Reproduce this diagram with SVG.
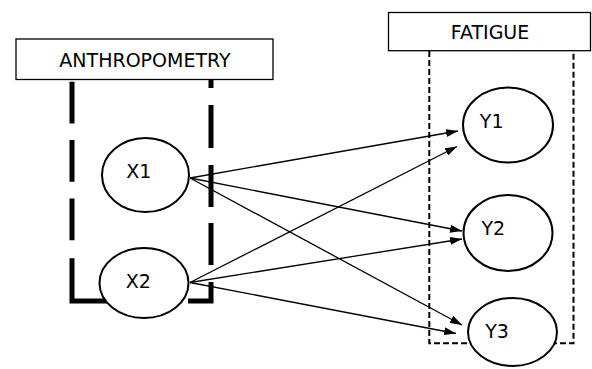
<svg xmlns="http://www.w3.org/2000/svg" width="592" height="369" viewBox="0 0 592 369">
<style>
.lbl{font-family:"DejaVu Sans","Liberation Sans",sans-serif;font-size:19px;fill:#000;text-anchor:middle}
.box{fill:#fff;stroke:#000;stroke-width:1.3}
.node{fill:#fff;stroke:#000;stroke-width:2}
.thick{fill:none;stroke:#000;stroke-width:5;stroke-linecap:butt;stroke-linejoin:miter}
.thin{fill:none;stroke:#000;stroke-width:2;stroke-dasharray:6 3}
.conn line{stroke:#000;stroke-width:1.3;marker-end:url(#ah)}
</style>
<defs>
<marker id="ah" markerUnits="userSpaceOnUse" markerWidth="12" markerHeight="8" refX="12" refY="4" orient="auto">
<path d="M0,0 L12,4 L0,8 z" fill="#000"/>
</marker>
</defs>
<g id="anthropometry">
<rect class="box" x="16" y="39" width="257" height="40.5"/>
<text class="lbl" x="145" y="66.5">ANTHROPOMETRY</text>
<path class="thick" d="M72,81.7 V123.4 M72,140.1 V181.8 M72,198.5 V240.2 M72,258.3 V301 H120"/>
<path class="thick" d="M188,301 H211 V282 M211,265 V223 M211,207 V165 M211,148 V105 M211,88 V80"/>
</g>
<g id="fatigue">
<rect class="box" x="388.5" y="12.5" width="202" height="38.2"/>
<text class="lbl" x="490" y="38.5">FATIGUE</text>
<path class="thin" d="M429.3,51 V343.3 H573.5 V51"/>
</g>
<g class="conn" id="connectors">
<line x1="190" y1="178" x2="458" y2="131"/>
<line x1="190" y1="178" x2="462" y2="231"/>
<line x1="190" y1="178" x2="462" y2="325"/>
<line x1="190" y1="282.5" x2="457" y2="146.5"/>
<line x1="190" y1="282.5" x2="462" y2="239"/>
<line x1="190" y1="282.5" x2="456" y2="333.5"/>
</g>
<g id="X1">
<ellipse class="node" cx="145.5" cy="175" rx="43.5" ry="37"/>
<text class="lbl" x="138.7" y="177.7">X1</text>
</g>
<g id="X2">
<ellipse class="node" cx="144" cy="283" rx="44.5" ry="35"/>
<text class="lbl" x="138.3" y="287.7">X2</text>
</g>
<g id="Y1">
<ellipse class="node" cx="508" cy="125" rx="45" ry="37.5"/>
<text class="lbl" x="491.7" y="128.3">Y1</text>
</g>
<g id="Y2">
<ellipse class="node" cx="508" cy="233" rx="44.5" ry="38"/>
<text class="lbl" x="493.3" y="235">Y2</text>
</g>
<g id="Y3">
<ellipse class="node" cx="512.5" cy="332" rx="44.5" ry="34"/>
<text class="lbl" x="497" y="338">Y3</text>
</g>
</svg>
